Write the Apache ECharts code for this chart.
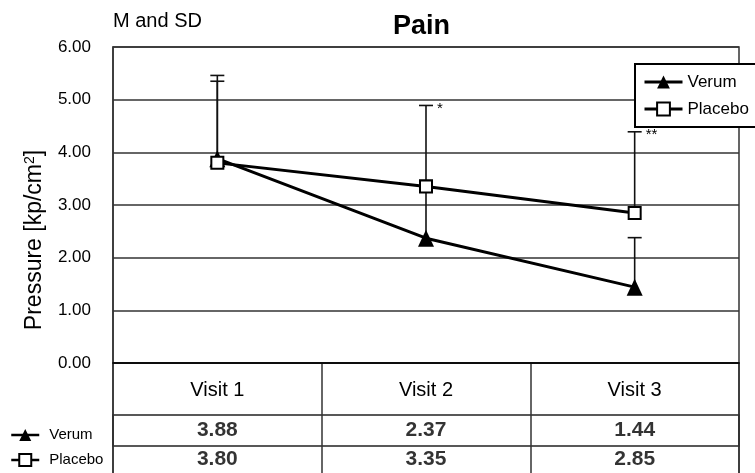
<!DOCTYPE html>
<html>
<head>
<meta charset="utf-8">
<script src="https://cdn.jsdelivr.net/npm/echarts@6/dist/echarts.min.js"></script>
<style>
  html, body { margin: 0; padding: 0; background: #fff; }
  #chart { width: 755px; height: 473px; }
</style>
</head>
<body>
<div id="chart"></div>
<script>
// Pain pressure threshold per visit: mean and standard deviation
const visits = ['Visit 1', 'Visit 2', 'Visit 3'];
const verumMean = [3.88, 2.37, 1.44];
const placeboMean = [3.80, 3.35, 2.85];
const verumSD = [1.58, 1.10, 0.94];
const placeboSD = [1.55, 1.54, 1.54];
const significance = ['', '*', '**'];
const yMin = 0, yMax = 6, yStep = 1;

const FONT = '"Liberation Sans", Arial, Helvetica, sans-serif';
const INK = '#000';
const RULE = '#333';

const chart = echarts.init(document.getElementById('chart'), null, { renderer: 'canvas' });

// Upward SD whisker with a cap, optionally tagged with a significance mark
function errorBar(marks) {
  return function (params, api) {
    const idx = api.value(0);
    const mean = api.value(1);
    const sd = api.value(2);
    const base = api.coord([idx, mean]);
    const top = api.coord([idx, mean + sd]);
    const half = 7;
    const stroke = { stroke: '#111', lineWidth: 1.6 };
    const children = [
      { type: 'line', shape: { x1: base[0], y1: base[1], x2: top[0], y2: top[1] }, style: stroke },
      { type: 'line', shape: { x1: top[0] - half, y1: top[1], x2: top[0] + half, y2: top[1] }, style: stroke }
    ];
    const mark = marks ? marks[params.dataIndex] : '';
    if (mark) {
      children.push({
        type: 'text', x: top[0] + 11, y: top[1] - 4,
        style: { text: mark, fill: INK, fontSize: 15, fontFamily: FONT, align: 'left', verticalAlign: 'top' }
      });
    }
    return { type: 'group', children: children };
  };
}

function rowCells(values) {
  return values.map((v, i) => [i, 0.5, v]);
}

const option = {
  animation: false,
  backgroundColor: '#fff',
  textStyle: { fontFamily: FONT, color: INK },
  title: [
    { text: 'Pain', left: 393, top: 13, padding: 0,
      textStyle: { fontSize: 27, fontWeight: 'bold', color: INK, fontFamily: FONT } },
    { text: 'M and SD', left: 113, top: 11, padding: 0,
      textStyle: { fontSize: 20, fontWeight: 'normal', color: INK, fontFamily: FONT } }
  ],
  legend: [
    {
      data: ['Verum', 'Placebo'], orient: 'vertical', left: 635, top: 64,
      padding: [9, 12, 9, 8], itemGap: 9, itemWidth: 38, itemHeight: 16,
      borderColor: INK, borderWidth: 2, backgroundColor: '#fff', selectedMode: false,
      lineStyle: { width: 3, color: INK },
      textStyle: { fontSize: 17, color: INK, fontFamily: FONT, lineHeight: 18 }
    },
    {
      data: ['Verum', 'Placebo'], orient: 'vertical', left: 10, top: 427,
      padding: 0, itemGap: 9, itemWidth: 28, itemHeight: 15, selectedMode: false,
      lineStyle: { width: 2.5, color: INK },
      textStyle: { fontSize: 15, color: INK, fontFamily: FONT, lineHeight: 16, padding: [0, 0, 0, 5] }
    }
  ],
  grid: [
    // plot area
    { left: 113, right: 16, top: 47, height: 316, show: true, borderColor: RULE, borderWidth: 1.5,
      outerBoundsMode: 'none', containLabel: false },
    // table frame with column dividers
    { left: 113, right: 16, top: 363, height: 140, show: true, borderColor: RULE, borderWidth: 1.5,
      outerBoundsMode: 'none', containLabel: false },
    // Verum row
    { left: 113, right: 16, top: 415, height: 31, show: true, borderColor: '#222', borderWidth: 1.5,
      outerBoundsMode: 'none', containLabel: false },
    // Placebo row
    { left: 113, right: 16, top: 446, height: 26, show: false,
      outerBoundsMode: 'none', containLabel: false }
  ],
  xAxis: [
    {
      gridIndex: 0, type: 'category', data: visits, boundaryGap: true,
      axisLine: { show: true, lineStyle: { color: INK, width: 1.5 } },
      axisTick: { show: false }, splitLine: { show: false },
      axisLabel: { fontSize: 20, color: INK, fontFamily: FONT, margin: 17, lineHeight: 20, interval: 0 }
    },
    {
      gridIndex: 1, type: 'category', data: visits, boundaryGap: true,
      axisLine: { show: false }, axisTick: { show: false }, axisLabel: { show: false },
      splitLine: { show: true, interval: 0, lineStyle: { color: RULE, width: 1.5 } }
    },
    { gridIndex: 2, type: 'category', data: visits, boundaryGap: true, show: false },
    { gridIndex: 3, type: 'category', data: visits, boundaryGap: true, show: false }
  ],
  yAxis: [
    {
      gridIndex: 0, type: 'value', min: yMin, max: yMax, interval: yStep,
      name: 'Pressure [kp/cm{sup|2}]', nameLocation: 'middle', nameGap: 66,
      nameTextStyle: {
        fontSize: 23, color: INK, fontFamily: FONT, padding: [0, 70, 0, 0],
        rich: { sup: { fontSize: 14, color: INK, fontFamily: FONT, verticalAlign: 'top', padding: [0, 0, 10, 0] } }
      },
      axisLine: { show: true, lineStyle: { color: RULE, width: 1.5 } },
      axisTick: { show: false },
      axisLabel: { fontSize: 17, color: INK, fontFamily: FONT, margin: 22, formatter: v => v.toFixed(2) },
      splitLine: { show: true, lineStyle: { color: RULE, width: 1.5 } }
    },
    { gridIndex: 1, type: 'value', min: 0, max: 1, show: false, splitLine: { show: false } },
    { gridIndex: 2, type: 'value', min: 0, max: 1, show: false, splitLine: { show: false } },
    { gridIndex: 3, type: 'value', min: 0, max: 1, show: false, splitLine: { show: false } }
  ],
  series: [
    {
      name: 'Verum SD', type: 'custom', xAxisIndex: 0, yAxisIndex: 0, z: 1, silent: true,
      renderItem: errorBar(null),
      data: visits.map((v, i) => [i, verumMean[i], verumSD[i]])
    },
    {
      name: 'Placebo SD', type: 'custom', xAxisIndex: 0, yAxisIndex: 0, z: 1, silent: true,
      renderItem: errorBar(significance),
      data: visits.map((v, i) => [i, placeboMean[i], placeboSD[i]])
    },
    {
      name: 'Verum', type: 'line', xAxisIndex: 0, yAxisIndex: 0, z: 3,
      data: verumMean, symbol: 'triangle', symbolSize: [16, 17],
      lineStyle: { color: INK, width: 3 },
      itemStyle: { color: INK, borderColor: INK, borderWidth: 0 }
    },
    {
      name: 'Placebo', type: 'line', xAxisIndex: 0, yAxisIndex: 0, z: 4,
      data: placeboMean, symbol: 'rect', symbolSize: 12,
      lineStyle: { color: INK, width: 3 },
      itemStyle: { color: '#fff', borderColor: INK, borderWidth: 2 }
    },
    {
      name: 'Verum values', type: 'scatter', xAxisIndex: 2, yAxisIndex: 2, silent: true,
      symbolSize: 0, data: rowCells(verumMean),
      label: { show: true, position: 'inside', formatter: p => p.value[2].toFixed(2),
        fontSize: 21, fontWeight: 'bold', color: INK, fontFamily: FONT }
    },
    {
      name: 'Placebo values', type: 'scatter', xAxisIndex: 3, yAxisIndex: 3, silent: true,
      symbolSize: 0, data: rowCells(placeboMean),
      label: { show: true, position: 'inside', formatter: p => p.value[2].toFixed(2),
        fontSize: 21, fontWeight: 'bold', color: INK, fontFamily: FONT }
    }
  ]
};

chart.setOption(option);
</script>
</body>
</html>
